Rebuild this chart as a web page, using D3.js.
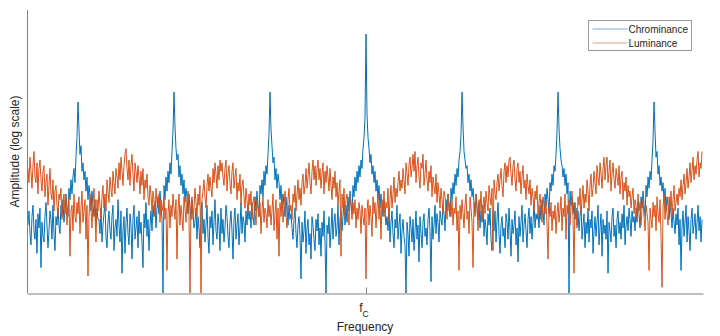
<!DOCTYPE html>
<html>
<head>
<meta charset="utf-8">
<script src="https://cdn.jsdelivr.net/npm/d3@7"></script>
<style>
  html, body { margin: 0; padding: 0; background: #fff; }
  svg { display: block; font-family: "Liberation Sans", Arial, Helvetica, sans-serif; }
</style>
</head>
<body>
<svg id="chart" width="720" height="336"></svg>
<script>
// Spectrum samples: frequency offset from the colour carrier, in units of the line rate.
const freqFirst = -338 / 96;
const freqStep = 1 / 96;

// Log amplitude (dB above the plot floor) of the chrominance spectrum.
const chrominance = [
  24, 29, 21, 17, 27, 31, 22, 19, 26, 14, 28, 23, 30, 9, 25, 20, 18, 27, 32, 24, 16, 22, 29, 26, 19, 31, 21, 15, 27, 24,
  30, 24, 21, 31, 27, 33, 25, 29, 35, 30, 27, 37, 33, 40, 35, 41, 44, 39, 48, 55,
  67.5,
  58, 49, 52, 43, 46, 40, 43, 36, 41, 33, 38, 35, 29, 36, 31, 27, 33, 24, 30, 26,
  26, 21, 30, 18, 24, 28, 32, 20, 16, 25, 29, 22, 19, 27, 31, 15, 23, 26, 20, 33,
  24, 18, 29, 7, 22, 27, 14, 25, 30, 21, 17, 28, 24, 12, 26, 31, 19, 23, 27, 16,
  29, 21, 25, 18, 9, 28, 23, 32, 20, 26, 15, 24, 29, 22, 31,
  27, 32, 23, 30, 34, 28, 36, 31, 26, 0, 38, 33, 41, 36, 43, 39, 46, 42, 50, 57,
  71,
  59, 51, 47, 49, 41, 45, 38, 42, 35, 40, 32, 37, 34, 28, 35, 30, 26, 33, 29, 23,
  25, 30, 19, 27, 23, 16, 29, 32, 21, 26, 18, 24, 31, 20, 14, 27, 23, 29, 17, 25,
  33, 22, 19, 28, 24, 15, 30, 21, 26, 18, 23, 31, 27, 20, 16, 25, 29, 22, 12, 26,
  30, 19, 24, 28, 17, 23, 32, 21, 27, 25, 18, 29, 24, 31, 26,
  29, 23, 32, 27, 24, 34, 29, 36, 31, 27, 38, 35, 40, 34, 43, 38, 45, 42, 49, 56,
  71,
  58, 52, 46, 48, 40, 44, 37, 42, 39, 33, 38, 30, 35, 31, 27, 34, 29, 24, 31, 26,
  28, 23, 19, 26, 30, 21, 16, 24, 27, 20, 5, 25, 18, 22, 29, 14, 23, 26, 17, 21,
  12, 27, 24, 19, 15, 26, 22, 28, 17, 23, 13, 25, 20, 29, 18, 0, 24, 21, 27, 16,
  22, 30, 19, 25, 28, 20, 23, 31, 17, 26, 29, 22, 27, 32, 24,
  31, 25, 34, 29, 36, 32, 28, 38, 34, 41, 36, 43, 39, 45, 41, 47, 44, 51, 55, 62,
  91.5,
  63, 55, 51, 46, 49, 42, 45, 39, 43, 36, 40, 33, 38, 30, 35, 31, 27, 33, 28, 24,
  27, 22, 30, 18, 25, 29, 21, 16, 26, 23, 31, 19, 24, 28, 14, 22, 26, 20, 17, 0,
  25, 21, 13, 27, 23, 18, 26, 15, 22, 29, 19, 24, 11, 27, 21, 16, 25, 28, 20, 23,
  17, 26, 30, 22, 4, 27, 19, 24, 31, 21, 28, 25, 18, 29, 26,
  24, 31, 28, 22, 33, 29, 35, 31, 27, 37, 33, 39, 35, 42, 38, 44, 41, 47, 50, 56,
  71,
  59, 50, 47, 44, 45, 39, 42, 36, 40, 34, 37, 32, 28, 35, 30, 26, 32, 23, 29, 25,
  31, 20, 26, 23, 17, 28, 24, 30, 19, 15, 25, 22, 29, 18, 26, 32, 21, 14, 24, 27,
  20, 23, 16, 28, 25, 19, 30, 22, 13, 26, 21, 24, 29, 17, 23, 11, 27, 20, 25, 31,
  18, 24, 28, 22, 16, 26, 30, 21, 27, 19, 25, 32, 23, 28, 26,
  28, 23, 31, 26, 33, 29, 24, 35, 31, 37, 33, 28, 39, 36, 42, 38, 45, 43, 49, 57,
  71,
  58, 51, 47, 45, 41, 44, 38, 42, 35, 39, 0, 36, 31, 34, 28, 32, 26, 30, 24, 29,
  22, 27, 31, 19, 24, 28, 16, 25, 21, 30, 18, 26, 23, 29, 14, 22, 27, 20, 25, 31,
  17, 23, 28, 13, 26, 21, 24, 19, 29, 7, 25, 22, 18, 27, 30, 20, 24, 16, 26, 29,
  21, 25, 19, 28, 23, 31, 17, 24, 27, 22, 30, 26, 20, 29, 25,
  27, 22, 30, 25, 32, 28, 23, 34, 30, 36, 31, 27, 38, 34, 41, 37, 43, 40, 47, 54,
  67.5,
  57, 48, 50, 42, 45, 38, 41, 36, 39, 32, 37, 29, 34, 31, 26, 32, 28, 23, 30, 25,
  21, 28, 24, 30, 17, 26, 8, 23, 29, 20, 25, 31, 18, 27, 22, 15, 26, 30, 21, 24,
  28, 19, 25, 31, 22, 27, 18, 26
];

// Log amplitude (dB above the plot floor) of the luminance spectrum.
const luminance = [
  44, 39,
  48, 43, 37, 45, 50, 41, 39, 46, 35, 44, 47, 40, 36, 43, 45, 34, 39, 42, 31, 38, 44, 35, 33, 40,
  29, 36, 38, 31, 27, 35, 33, 37, 26, 32, 35, 28, 33, 24, 30, 34, 13, 29, 31, 22, 35, 27, 25, 32,
  28, 34, 21, 30, 36, 25, 29, 33, 19, 31, 6, 27, 35, 30, 23, 32, 37, 28, 18, 33, 29, 36, 31, 26,
  34, 38, 30, 35, 29, 40, 36, 32, 41, 37, 34, 43, 39, 35, 44, 41, 37, 46, 40, 48, 43, 38, 45, 49,
  51, 44, 40, 47, 38, 45, 49, 42, 36, 46, 43, 39, 45, 41, 35, 43, 38, 44, 33, 40, 37, 42, 34, 31,
  38, 35, 29, 36, 33, 27, 37, 32, 30, 35, 25, 33, 29, 31, 34, 26, 30, 8, 28, 33, 23, 31, 27, 35,
  30, 26, 33, 12, 29, 35, 24, 31, 27, 22, 34, 30, 25, 33, 36, 28, 0, 31, 34, 26, 30, 37, 32, 27,
  35, 31, 38, 0, 33, 36, 40, 34, 30, 38, 42, 36, 41, 37, 34, 44, 39, 46, 42, 37, 45, 40, 47, 43,
  46, 41, 38, 44, 47, 36, 42, 45, 39, 35, 43, 46, 37, 41, 44, 33, 39, 36, 42, 31, 38, 40, 34, 30,
  37, 33, 28, 35, 31, 36, 26, 32, 34, 29, 24, 33, 30, 27, 32, 21, 29, 34, 25, 30, 28, 23, 33, 27,
  31, 24, 29, 35, 22, 28, 33, 19, 30, 13, 32, 27, 34, 25, 30, 36, 28, 23, 33, 37, 29, 31, 26, 35,
  32, 38, 29, 35, 40, 33, 37, 31, 39, 42, 35, 38, 44, 37, 41, 46, 39, 35, 43, 47, 40, 45, 38, 44,
  47, 40, 44, 37, 42, 46, 35, 43, 39, 45, 41, 36, 44, 38, 33, 41, 37, 43, 34, 39, 31, 36, 40, 13,
  35, 30, 37, 27, 33, 35, 29, 24, 34, 31, 26, 32, 28, 33, 23, 30, 26, 32, 29, 21, 31, 27, 24, 30,
  5, 29, 33, 24, 31, 27, 20, 34, 28, 32, 23, 30, 35, 26, 31, 19, 33, 29, 36, 27, 32, 30, 37, 25,
  33, 38, 30, 35, 41, 32, 37, 34, 39, 43, 36, 40, 37, 44, 40, 35, 46, 42, 38, 45, 48, 41, 44, 49,
  43, 50, 39, 45, 48, 41, 37, 46, 44, 49, 38, 42, 47, 40, 36, 43, 39, 45, 34, 41, 38, 35, 42, 32,
  39, 35, 30, 37, 33, 28, 36, 34, 31, 26, 35, 29, 32, 27, 33, 24, 30, 28, 34, 22, 29, 8, 31, 26,
  33, 28, 23, 31, 35, 26, 29, 21, 34, 30, 25, 9, 32, 27, 35, 30, 22, 33, 29, 36, 26, 31, 34, 28,
  36, 32, 29, 38, 34, 31, 37, 15, 40, 35, 33, 39, 42, 36, 40, 44, 38, 34, 43, 46, 39, 45, 41, 47,
  48, 42, 38, 45, 47, 40, 36, 44, 46, 39, 43, 35, 41, 45, 37, 40, 33, 42, 38, 35, 40, 31, 37, 34,
  29, 36, 33, 38, 27, 32, 35, 30, 25, 34, 31, 28, 33, 24, 12, 30, 27, 32, 22, 29, 26, 31, 21, 28,
  32, 25, 29, 34, 22, 30, 27, 35, 19, 31, 28, 33, 24, 30, 36, 27, 7, 32, 29, 23, 34, 31, 37, 28,
  33, 38, 30, 35, 32, 40, 36, 29, 38, 42, 34, 37, 43, 39, 35, 45, 41, 38, 46, 42, 37, 44, 48, 40,
  45, 48, 39, 43, 47, 36, 42, 46, 40, 37, 44, 41, 38, 45, 35, 41, 43, 33, 39, 36, 41, 31, 38, 34,
  36, 30, 34, 37, 28, 33, 31, 26, 35, 29, 32, 24, 30, 33, 27, 22, 31, 28, 25, 8, 30, 26, 23, 32,
  27, 31, 22, 34, 28, 25, 33, 20, 2, 30, 35, 26, 31, 28, 24, 34, 30, 36, 27, 33, 38, 29, 32, 35,
  31, 37, 34, 40, 33, 38, 42, 35, 39, 44, 37, 41, 46, 39, 43, 48, 40, 45, 42, 47, 50, 41, 46, 44,
  50
];

const seriesNames = ["Chrominance", "Luminance"];
const seriesColors = ["#0072BD", "#D95319"];
const tickValues = [0];
const xTitle = "Frequency";
const yTitle = "Amplitude (log scale)";

const svg = d3.select("#chart");
const plotLeft = 27, plotRight = 703, plotTop = 10, plotBottom = 293;

const x = d3.scaleLinear().domain([-3.531, 3.510]).range([plotLeft, plotRight]);
const y = d3.scaleLinear().domain([0, 100]).range([plotBottom, plotTop]);

const line = d3.line()
  .x((d, i) => x(freqFirst + i * freqStep))
  .y(d => y(d));

const plot = svg.append("g");
[chrominance, luminance].forEach((vals, k) => {
  plot.append("path")
    .datum(vals)
    .attr("fill", "none")
    .attr("stroke", seriesColors[k])
    .attr("stroke-width", 1)
    .attr("stroke-linejoin", "bevel")
    .attr("d", line);
});

// Axes: left spine without ticks, bottom spine with an inward tick at the carrier.
const axisColor = "#808080";
svg.append("line")
  .attr("x1", plotLeft + 0.5).attr("x2", plotLeft + 0.5)
  .attr("y1", plotTop).attr("y2", plotBottom)
  .attr("stroke", axisColor).attr("stroke-width", 1);

const xAxis = d3.axisBottom(x).tickValues(tickValues).tickSizeInner(-6).tickSizeOuter(0).tickFormat(() => "");
const gx = svg.append("g").attr("transform", `translate(0,${plotBottom + 0.5})`).call(xAxis);
gx.select(".domain").attr("stroke", axisColor);
gx.selectAll(".tick line").attr("stroke", axisColor);

// Tick label: f with subscript C
const tl = svg.append("text")
  .attr("x", x(tickValues[0]) - 2)
  .attr("y", 312)
  .attr("text-anchor", "middle")
  .attr("fill", "#262626")
  .attr("font-size", 12);
tl.append("tspan").text("f");
tl.append("tspan").attr("dy", 5).attr("font-size", 8.5).text("C");

svg.append("text")
  .attr("x", (plotLeft + plotRight) / 2)
  .attr("y", 331)
  .attr("text-anchor", "middle")
  .attr("fill", "#262626")
  .attr("font-size", 12)
  .text(xTitle);

svg.append("text")
  .attr("transform", `translate(19,${(plotTop + plotBottom) / 2}) rotate(-90)`)
  .attr("text-anchor", "middle")
  .attr("fill", "#262626")
  .attr("font-size", 12)
  .text(yTitle);

// Legend
const lg = svg.append("g").attr("transform", "translate(588.5,20.5)");
lg.append("rect").attr("width", 103).attr("height", 30)
  .attr("fill", "#fff").attr("stroke", "#9a9a9a").attr("stroke-width", 1);
seriesNames.forEach((name, k) => {
  const yy = 8.5 + k * 14;
  lg.append("line").attr("x1", 4).attr("x2", 39).attr("y1", yy).attr("y2", yy)
    .attr("stroke", seriesColors[k]).attr("stroke-opacity", 0.55).attr("stroke-width", 1);
  lg.append("text").attr("x", 40).attr("y", yy + 3.6)
    .attr("fill", "#262626").attr("font-size", 10).text(name);
});
</script>
</body>
</html>
